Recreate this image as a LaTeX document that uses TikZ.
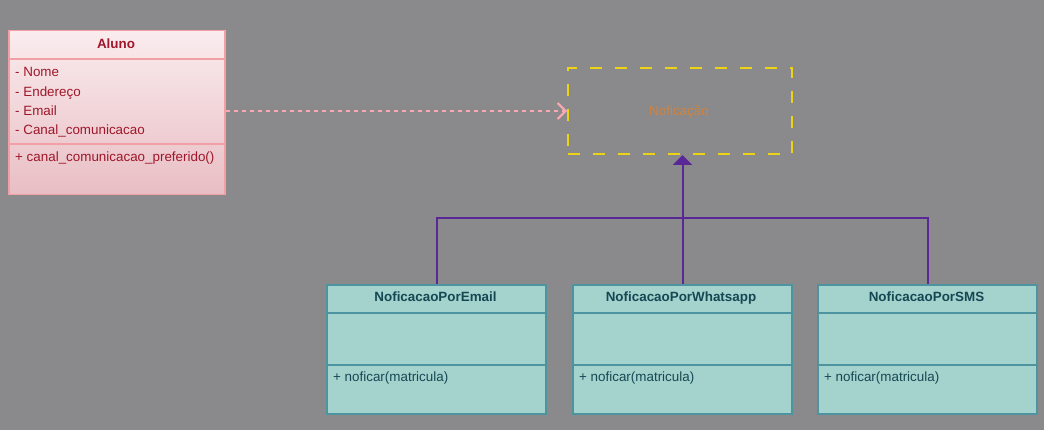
\documentclass[tikz,border=0pt]{standalone}
\usepackage{fontspec}
\setmainfont{Liberation Sans}
\usetikzlibrary{arrows.meta,positioning}
\definecolor{bg}{RGB}{138,137,139}
\definecolor{pinkfillA}{RGB}{250,236,238}
\definecolor{pinkfillB}{RGB}{232,190,196}
\definecolor{pinkborder}{RGB}{242,160,166}
\definecolor{redtext}{RGB}{160,22,42}
\definecolor{tealfill}{RGB}{164,210,205}
\definecolor{tealborder}{RGB}{78,148,160}
\definecolor{tealtext}{RGB}{22,72,84}
\definecolor{notifyellow}{RGB}{236,212,20}
\definecolor{orangetext}{RGB}{206,132,64}
\definecolor{purpleline}{RGB}{90,40,150}
\definecolor{pinkline}{RGB}{250,170,176}
\tikzset{
  every node/.style={font=\fontsize{13.4}{15}\selectfont, inner sep=0pt},
  txt/.style={text height=9.6pt, text depth=2.8pt, yshift=-1.5pt},
  alunobox/.style={draw=pinkborder, line width=1.5pt, top color=pinkfillA, bottom color=pinkfillB, anchor=north west, minimum width=216pt, minimum height=164pt},
  childbox/.style={draw=tealborder, line width=2pt, fill=tealfill, anchor=north west, minimum width=219pt, minimum height=129pt},
  notifbox/.style={draw=notifyellow, line width=2pt, dash pattern=on 12pt off 13pt, anchor=north west, minimum width=224pt, minimum height=86pt},
  redlbl/.style={txt, text=redtext, anchor=west},
  redhead/.style={txt, text=redtext, font=\fontsize{13.4}{15}\selectfont\bfseries},
  teallbl/.style={txt, text=tealtext, anchor=west},
  tealhead/.style={txt, text=tealtext, font=\fontsize{13.4}{15}\selectfont\bfseries},
  notiflbl/.style={txt, text=orangetext},
  depline/.style={draw=pinkline, line width=1.5pt, dash pattern=on 4pt off 4pt, -{Straight Barb[length=8pt,width=16pt,line width=2pt]}},
  inhline/.style={draw=purpleline, line width=2pt},
}
\begin{document}
\begin{tikzpicture}[x=1pt,y=-1pt]
\useasboundingbox (0,0) rectangle (1044,430);
\fill[bg] (0,0) rectangle (1044,430);

% Aluno
\node[alunobox] (aluno) at (8,30) {};
\draw[pinkborder, line width=1.5pt] (8,59) -- (224,59);
\draw[pinkborder, line width=1.5pt] (8,144) -- (224,144);
\node[redhead] (alunoh) at (116,44) {Aluno};
\node[redlbl] (a1) at (15,72) {- Nome};
\node[redlbl] (a2) at (15,91.5) {- Endereço};
\node[redlbl] (a3) at (15,111) {- Email};
\node[redlbl] (a4) at (15,130) {- Canal\_comunicacao};
\node[redlbl] (a5) at (15,157) {+ canal\_comunicacao\_preferido()};

% Notificacao
\node[notifbox] (notif) at (567,67) {};
\node[notiflbl] (notift) at (679,111) {Noficação};

% children
\node[childbox] (email) at (326,284) {};
\node[childbox] (whats) at (572,284) {};
\node[childbox] (sms) at (817,284) {};
\foreach \x in {326,572,817}{
  \draw[tealborder, line width=2pt] (\x,313) -- (\x+219,313);
  \draw[tealborder, line width=2pt] (\x,365) -- (\x+219,365);
}
\node[tealhead] (emailh) at (435.5,297) {NoficacaoPorEmail};
\node[tealhead] (whatsh) at (681,297) {NoficacaoPorWhatsapp};
\node[tealhead] (smsh) at (926.5,297) {NoficacaoPorSMS};
\node[teallbl] (emailm) at (333,377) {+ noficar(matricula)};
\node[teallbl] (whatsm) at (579,377) {+ noficar(matricula)};
\node[teallbl] (smsm) at (824,377) {+ noficar(matricula)};

% dependency
\draw[depline] (aluno.east |- 0,111) -- (notif.west |- 0,111);

% inheritance
\coordinate (j) at (681,218);
\draw[inhline] (email.north) |- (j);
\draw[inhline] (sms.north) |- (j);
\draw[inhline, -{Triangle[length=10pt,width=19pt]}] (whats.north) -- (notif.south -| whats.north);
\end{tikzpicture}
\end{document}
